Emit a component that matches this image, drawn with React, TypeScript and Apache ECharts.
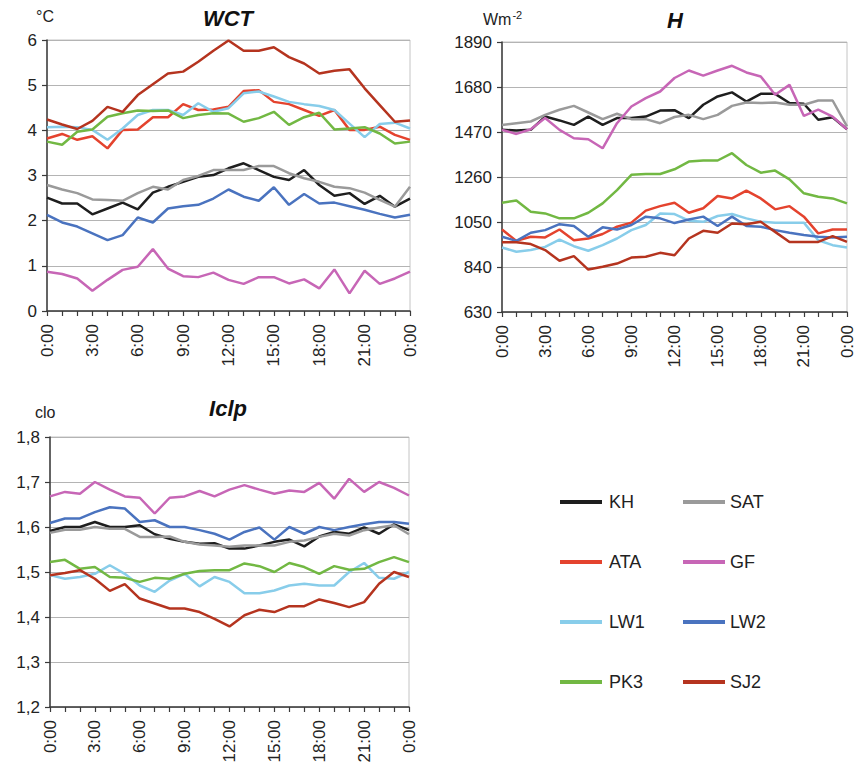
import React, { useEffect, useRef } from "react";
import * as echarts from "echarts";

const hours = [
  "0:00", "1:00", "2:00", "3:00", "4:00", "5:00", "6:00", "7:00", "8:00", "9:00", "10:00", "11:00",
  "12:00", "13:00", "14:00", "15:00", "16:00", "17:00", "18:00", "19:00", "20:00", "21:00", "22:00", "23:00", "0:00",
];

// WCT (°C)
const wctKH = [2.51, 2.38, 2.38, 2.14, 2.27, 2.4, 2.25, 2.62, 2.75, 2.86, 2.97, 3.01, 3.16, 3.27, 3.12, 2.97, 2.9, 3.12, 2.79, 2.55, 2.61, 2.37, 2.55, 2.31, 2.49];
const wctSAT = [2.79, 2.69, 2.61, 2.47, 2.46, 2.44, 2.61, 2.75, 2.69, 2.9, 2.99, 3.12, 3.12, 3.12, 3.21, 3.21, 3.05, 2.94, 2.86, 2.75, 2.72, 2.62, 2.46, 2.31, 2.75];
const wctATA = [3.82, 3.92, 3.79, 3.87, 3.6, 4.01, 4.02, 4.29, 4.29, 4.58, 4.45, 4.46, 4.52, 4.87, 4.89, 4.63, 4.58, 4.45, 4.32, 4.45, 4.01, 4.01, 4.08, 3.9, 3.79];
const wctGF = [0.87, 0.82, 0.72, 0.45, 0.69, 0.91, 0.98, 1.37, 0.94, 0.77, 0.75, 0.85, 0.69, 0.6, 0.75, 0.75, 0.61, 0.7, 0.5, 0.92, 0.39, 0.89, 0.6, 0.72, 0.87];
const wctLW1 = [4.07, 4.08, 4.07, 4.01, 3.79, 4.04, 4.34, 4.45, 4.45, 4.34, 4.6, 4.41, 4.49, 4.82, 4.86, 4.75, 4.63, 4.58, 4.54, 4.45, 4.15, 3.85, 4.14, 4.17, 4.04];
const wctLW2 = [2.13, 1.96, 1.87, 1.72, 1.57, 1.68, 2.07, 1.96, 2.27, 2.32, 2.35, 2.49, 2.69, 2.53, 2.44, 2.74, 2.35, 2.59, 2.38, 2.4, 2.32, 2.24, 2.15, 2.07, 2.13];
const wctPK3 = [3.75, 3.68, 3.97, 4.02, 4.3, 4.38, 4.44, 4.43, 4.44, 4.27, 4.34, 4.38, 4.37, 4.19, 4.27, 4.41, 4.12, 4.29, 4.39, 4.02, 4.04, 4.07, 3.93, 3.71, 3.75];
const wctSJ2 = [4.24, 4.13, 4.03, 4.21, 4.52, 4.41, 4.78, 5.02, 5.26, 5.3, 5.52, 5.76, 5.99, 5.76, 5.76, 5.84, 5.62, 5.48, 5.26, 5.32, 5.35, 4.93, 4.56, 4.19, 4.22];

// H (W m-2)
const hKH = [1480, 1477, 1480, 1542, 1524, 1503, 1542, 1503, 1535, 1535, 1542, 1570, 1572, 1535, 1597, 1636, 1655, 1612, 1648, 1648, 1605, 1602, 1527, 1539, 1483];
const hSAT = [1503, 1511, 1519, 1550, 1574, 1592, 1561, 1530, 1555, 1530, 1530, 1511, 1540, 1550, 1530, 1550, 1592, 1608, 1605, 1608, 1597, 1597, 1617, 1617, 1496];
const hATA = [1015, 962, 981, 978, 1015, 965, 973, 994, 1028, 1047, 1103, 1124, 1140, 1093, 1114, 1171, 1160, 1196, 1160, 1109, 1124, 1075, 997, 1015, 1015];
const hGF = [1480, 1461, 1483, 1535, 1480, 1441, 1436, 1394, 1511, 1589, 1628, 1659, 1722, 1757, 1733, 1757, 1779, 1748, 1729, 1644, 1690, 1545, 1574, 1542, 1483];
const hLW1 = [931, 911, 919, 934, 968, 937, 916, 942, 973, 1012, 1036, 1090, 1087, 1056, 1051, 1078, 1087, 1067, 1051, 1047, 1047, 1047, 965, 942, 931];
const hLW2 = [981, 962, 1000, 1012, 1040, 1031, 981, 1025, 1015, 1036, 1075, 1067, 1045, 1062, 1075, 1031, 1075, 1031, 1028, 1012, 1000, 989, 981, 978, 981];
const hPK3 = [1140, 1150, 1098, 1090, 1067, 1067, 1093, 1137, 1199, 1270, 1274, 1274, 1296, 1332, 1337, 1337, 1371, 1316, 1280, 1290, 1249, 1184, 1168, 1160, 1137];
const hSJ2 = [956, 956, 947, 919, 869, 891, 828, 841, 856, 884, 888, 906, 895, 973, 1009, 1000, 1043, 1040, 1051, 1004, 957, 957, 957, 984, 957];

// Iclp (clo)
const iKH = [1.591, 1.6, 1.6, 1.611, 1.6, 1.6, 1.604, 1.584, 1.574, 1.567, 1.563, 1.564, 1.552, 1.552, 1.559, 1.567, 1.572, 1.557, 1.579, 1.589, 1.585, 1.599, 1.585, 1.606, 1.593];
const iSAT = [1.587, 1.594, 1.594, 1.6, 1.596, 1.596, 1.578, 1.578, 1.579, 1.567, 1.561, 1.559, 1.556, 1.559, 1.559, 1.559, 1.567, 1.57, 1.578, 1.585, 1.581, 1.593, 1.599, 1.604, 1.584];
const iGF = [1.668, 1.678, 1.674, 1.7, 1.683, 1.668, 1.665, 1.63, 1.665, 1.668, 1.68, 1.668, 1.683, 1.693, 1.683, 1.674, 1.681, 1.678, 1.698, 1.663, 1.707, 1.678, 1.7, 1.687, 1.67];
const iLW1 = [1.493, 1.485, 1.489, 1.496, 1.515, 1.496, 1.47, 1.456, 1.481, 1.496, 1.468, 1.489, 1.478, 1.453, 1.453, 1.459, 1.47, 1.474, 1.47, 1.47, 1.5, 1.52, 1.487, 1.485, 1.5];
const iLW2 = [1.609, 1.619, 1.619, 1.633, 1.644, 1.641, 1.611, 1.615, 1.6, 1.6, 1.593, 1.585, 1.572, 1.589, 1.599, 1.572, 1.6, 1.585, 1.6, 1.593, 1.6, 1.606, 1.611, 1.611, 1.607];
const iPK3 = [1.522, 1.527, 1.507, 1.511, 1.489, 1.487, 1.478, 1.487, 1.485, 1.496, 1.502, 1.504, 1.504, 1.519, 1.513, 1.5, 1.52, 1.511, 1.496, 1.513, 1.505, 1.507, 1.522, 1.533, 1.522];
const iSJ2 = [1.493, 1.498, 1.504, 1.485, 1.458, 1.473, 1.441, 1.43, 1.419, 1.419, 1.411, 1.396, 1.379, 1.404, 1.416, 1.411, 1.424, 1.424, 1.439, 1.431, 1.422, 1.433, 1.474, 1.5, 1.489];

const names = ["KH", "SAT", "ATA", "GF", "LW1", "LW2", "PK3", "SJ2"];
const colors: Record<string, string> = {
  KH: "#1e1e1e",
  SAT: "#9a9a9a",
  ATA: "#e4432e",
  GF: "#c766b6",
  LW1: "#88cdea",
  LW2: "#4a73bf",
  PK3: "#72b843",
  SJ2: "#b5341f",
};

const FONT = "'Liberation Sans', Arial, sans-serif";

export default function App() {
  const ref = useRef<HTMLDivElement>(null);

  useEffect(() => {
    if (!ref.current) return;
    const chart = echarts.init(ref.current, null, { renderer: "svg" });

    const grids = [
      { left: 47, top: 40, width: 363, height: 271 },
      { left: 502, top: 42, width: 345, height: 270 },
      { left: 50, top: 437, width: 359, height: 270 },
    ];

    const panelData: Record<string, number[]>[] = [
      { KH: wctKH, SAT: wctSAT, ATA: wctATA, GF: wctGF, LW1: wctLW1, LW2: wctLW2, PK3: wctPK3, SJ2: wctSJ2 },
      { KH: hKH, SAT: hSAT, ATA: hATA, GF: hGF, LW1: hLW1, LW2: hLW2, PK3: hPK3, SJ2: hSJ2 },
      { KH: iKH, SAT: iSAT, GF: iGF, LW1: iLW1, LW2: iLW2, PK3: iPK3, SJ2: iSJ2 },
    ];

    const yCfg = [
      { min: 0, max: 6, interval: 1, fmt: (v: number) => String(v) },
      { min: 630, max: 1890, interval: 210, fmt: (v: number) => String(v) },
      { min: 1.2, max: 1.8, interval: 0.1, fmt: (v: number) => v.toFixed(1).replace(".", ",") },
    ];

    const series: any[] = [];
    panelData.forEach((pd, gi) => {
      names.forEach((n) => {
        if (!pd[n]) return;
        series.push({
          type: "line",
          name: n,
          xAxisIndex: gi,
          yAxisIndex: gi,
          data: pd[n],
          showSymbol: false,
          symbol: "none",
          lineStyle: { width: 2.5, color: colors[n] },
          itemStyle: { color: colors[n] },
          silent: true,
        });
      });
    });

    const option: any = {
      animation: false,
      backgroundColor: "#ffffff",
      textStyle: { fontFamily: FONT },
      grid: grids.map((g) => ({ ...g, show: true, borderColor: "#c4c4c4", borderWidth: 1, containLabel: false })),
      xAxis: grids.map((_, gi) => ({
        type: "category",
        gridIndex: gi,
        data: hours,
        boundaryGap: false,
        axisLine: { show: true, lineStyle: { color: "#3a3a3a", width: 1.5 } },
        axisTick: { show: true, interval: 0, length: 5, lineStyle: { color: "#3a3a3a", width: 1.2 } },
        axisLabel: { interval: 2, rotate: 90, fontSize: 17, color: "#222", fontFamily: FONT, margin: 13 },
        splitLine: { show: false },
      })),
      yAxis: yCfg.map((c, gi) => ({
        type: "value",
        gridIndex: gi,
        min: c.min,
        max: c.max,
        interval: c.interval,
        axisLine: { show: true, lineStyle: { color: "#3a3a3a", width: 1.5 } },
        axisTick: { show: true, length: 5, lineStyle: { color: "#3a3a3a", width: 1.2 } },
        axisLabel: { fontSize: 17, color: "#222", fontFamily: FONT, margin: 10, formatter: c.fmt },
        splitLine: { show: true, lineStyle: { color: "#b4b4b4", width: 1.2 } },
      })),
      legend: [
        {
          data: ["KH", "ATA", "LW1", "PK3"],
          orient: "vertical",
          left: 555,
          top: 487,
          itemWidth: 42,
          itemHeight: 4,
          itemGap: 40,
          icon: "rect",
          selectedMode: false,
          textStyle: { fontSize: 18, color: "#222", fontFamily: FONT, lineHeight: 20, padding: [0, 0, 0, 2] },
        },
        {
          data: ["SAT", "GF", "LW2", "SJ2"],
          orient: "vertical",
          left: 678,
          top: 487,
          itemWidth: 42,
          itemHeight: 4,
          itemGap: 40,
          icon: "rect",
          selectedMode: false,
          textStyle: { fontSize: 18, color: "#222", fontFamily: FONT, lineHeight: 20, padding: [0, 0, 0, 0] },
        },
      ],
      graphic: [
        { type: "text", x: 228, y: 18, style: { text: "WCT", font: `italic bold 22px ${FONT}`, fill: "#111", align: "center", verticalAlign: "middle" } },
        { type: "text", x: 675, y: 20, style: { text: "H", font: `italic bold 22px ${FONT}`, fill: "#111", align: "center", verticalAlign: "middle" } },
        { type: "text", x: 228, y: 408, style: { text: "Iclp", font: `italic bold 22px ${FONT}`, fill: "#111", align: "center", verticalAlign: "middle" } },
        { type: "text", x: 36, y: 16, style: { text: "°C", font: `16px ${FONT}`, fill: "#222", align: "left", verticalAlign: "middle" } },
        {
          type: "text",
          x: 483,
          y: 19,
          style: {
            text: "{a|Wm}{b|-2}",
            align: "left",
            verticalAlign: "middle",
            rich: {
              a: { font: `16px ${FONT}`, fill: "#222", color: "#222" },
              b: { font: `11px ${FONT}`, fill: "#222", color: "#222", verticalAlign: "top", padding: [0, 0, 8, 1] },
            },
          },
        },
        { type: "text", x: 35, y: 412, style: { text: "clo", font: `16px ${FONT}`, fill: "#222", align: "left", verticalAlign: "middle" } },
      ],
      series,
    };

    chart.setOption(option);
    return () => chart.dispose();
  }, []);

  return <div ref={ref} style={{ position: "fixed", left: 0, top: 0, width: 856, height: 773, background: "#fff" }} />;
}
